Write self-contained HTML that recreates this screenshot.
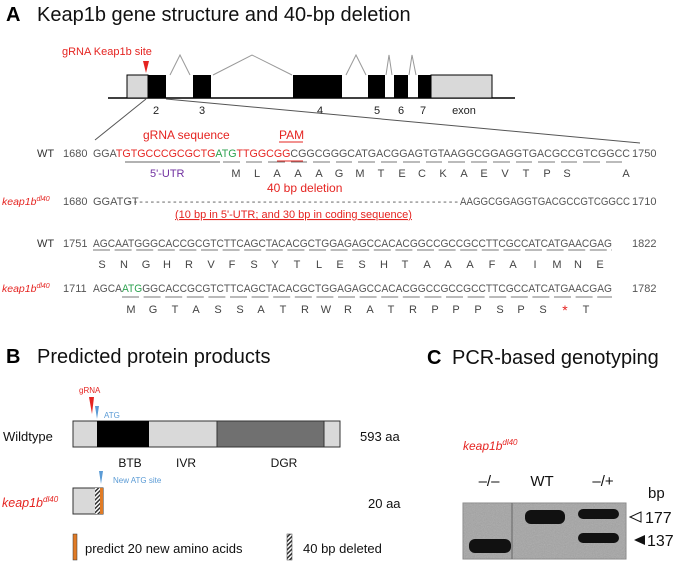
<!DOCTYPE html>
<html><head><meta charset="utf-8"><style>
html,body{margin:0;padding:0;background:#fff}
svg{display:block;font-family:"Liberation Sans",sans-serif}
.seq{font-family:"Liberation Sans Narrow","Liberation Sans",sans-serif;font-size:11px;fill:#555}
.aa{font-size:11px;fill:#444}
</style></head><body>
<svg width="685" height="562" viewBox="0 0 685 562" xmlns="http://www.w3.org/2000/svg">
<defs>
<pattern id="hatch" width="3" height="3" patternUnits="userSpaceOnUse" patternTransform="rotate(45)">
<rect width="3" height="3" fill="#fff"/><rect width="1.5" height="3" fill="#333"/></pattern>
<filter id="noise" x="0" y="0" width="1" height="1"><feTurbulence type="fractalNoise" baseFrequency="0.9" numOctaves="2"/><feColorMatrix type="saturate" values="0"/></filter>
<clipPath id="gelclip"><rect x="463" y="503" width="163" height="56"/></clipPath>
</defs>
<!-- Panel A -->
<text x="6" y="21" font-size="20" font-weight="bold">A</text>
<text x="37" y="21" font-size="20" fill="#111">Keap1b gene structure and 40-bp deletion</text>
<text x="62" y="55" font-size="11" fill="#e52421">gRNA  Keap1b site</text>
<polygon points="143,61 149,61 146,73" fill="#e52421"/>
<g stroke="#999" fill="none" stroke-width="1">
<polyline points="170,75 180,55 190,75"/>
<polyline points="213,75 252,55 292,75"/>
<polyline points="346,75 356,55 366,75"/>
<polyline points="386,75 389,55 392,75"/>
<polyline points="409,75 412,55 416,75"/>
</g>
<line x1="108" y1="98" x2="515" y2="98" stroke="#000" stroke-width="1.5"/>
<rect x="127" y="75" width="21" height="23" fill="#d9d9d9" stroke="#000"/>
<rect x="148" y="75" width="18" height="23" fill="#000"/>
<rect x="193" y="75" width="18" height="23" fill="#000"/>
<rect x="293" y="75" width="49" height="23" fill="#000"/>
<rect x="368" y="75" width="17" height="23" fill="#000"/>
<rect x="394" y="75" width="14" height="23" fill="#000"/>
<rect x="418" y="75" width="13" height="23" fill="#000"/>
<rect x="431" y="75" width="61" height="23" fill="#d9d9d9" stroke="#000"/>
<g font-size="11" fill="#222" text-anchor="middle">
<text x="156" y="114">2</text><text x="202" y="114">3</text><text x="320" y="114">4</text>
<text x="377" y="114">5</text><text x="401" y="114">6</text><text x="423" y="114">7</text><text x="464" y="114">exon</text>
</g>
<line x1="146" y1="99" x2="95" y2="140" stroke="#555"/>
<line x1="166" y1="99" x2="640" y2="143" stroke="#555"/>
<text x="143" y="139" font-size="12" fill="#e52421">gRNA  sequence</text>
<text x="279" y="139" font-size="12" fill="#e52421">PAM</text>
<line x1="279" y1="142" x2="303" y2="142" stroke="#e52421"/>
<!-- row 1 -->
<text x="37" y="157" font-size="11" fill="#333">WT</text>
<text x="63" y="157" class="seq">1680</text>
<text x="93" y="157" class="seq" textLength="537" lengthAdjust="spacingAndGlyphs">GGA<tspan fill="#e52421">TGTGCCCGCGCTG</tspan><tspan fill="#2ca24f">ATG</tspan><tspan fill="#e52421">TTGGCGG</tspan>CGGCGGGCATGACGGAGTGTAAGGCGGAGGTGACGCCGTCGGCC</text>
<text x="632" y="157" class="seq">1750</text>
<line x1="277" y1="161" x2="303" y2="161" stroke="#e52421"/>
<line x1="125" y1="162" x2="220" y2="162" stroke="#666"/>
<g stroke="#777">
<line x1="223" y1="162" x2="240" y2="162"/><line x1="246" y1="162" x2="262" y2="162"/><line x1="268" y1="162" x2="285" y2="162"/><line x1="291" y1="162" x2="307" y2="162"/><line x1="313" y1="162" x2="330" y2="162"/><line x1="336" y1="162" x2="352" y2="162"/><line x1="358" y1="162" x2="375" y2="162"/><line x1="381" y1="162" x2="397" y2="162"/><line x1="403" y1="162" x2="420" y2="162"/><line x1="426" y1="162" x2="442" y2="162"/><line x1="448" y1="162" x2="465" y2="162"/><line x1="471" y1="162" x2="487" y2="162"/><line x1="493" y1="162" x2="510" y2="162"/><line x1="516" y1="162" x2="532" y2="162"/><line x1="538" y1="162" x2="555" y2="162"/><line x1="561" y1="162" x2="577" y2="162"/><line x1="583" y1="162" x2="600" y2="162"/><line x1="606" y1="162" x2="622" y2="162"/>
</g>
<text x="150" y="177" font-size="11" fill="#7030a0">5'-UTR</text>
<g class="aa" text-anchor="middle">
<text x="236" y="177">M</text><text x="257" y="177">L</text><text x="277" y="177">A</text><text x="298" y="177">A</text><text x="319" y="177">A</text><text x="339" y="177">G</text><text x="360" y="177">M</text><text x="381" y="177">T</text><text x="402" y="177">E</text><text x="422" y="177">C</text><text x="443" y="177">K</text><text x="464" y="177">A</text><text x="484" y="177">E</text><text x="505" y="177">V</text><text x="526" y="177">T</text><text x="547" y="177">P</text><text x="567" y="177">S</text><text x="626" y="177">A</text>
</g>
<text x="267" y="192" font-size="12" fill="#e52421">40 bp deletion</text>
<text x="2" y="205" font-size="10.5" font-style="italic" fill="#e52421">keap1b<tspan font-size="7" dy="-4">dl40</tspan></text>
<text x="63" y="205" class="seq">1680</text>
<text x="93" y="205" class="seq">GGATGT</text>
<text x="128" y="205" class="seq" textLength="330" lengthAdjust="spacing">-----------------------------------------------------------</text>
<text x="460" y="205" class="seq" textLength="170" lengthAdjust="spacingAndGlyphs">AAGGCGGAGGTGACGCCGTCGGCC</text>
<text x="632" y="205" class="seq">1710</text>
<text x="175" y="218" font-size="11" fill="#e52421" text-decoration="underline">(10 bp in 5'-UTR; and 30 bp in coding sequence)</text>
<!-- row 2 -->
<text x="37" y="247" font-size="11" fill="#333">WT</text>
<text x="63" y="247" class="seq">1751</text>
<text x="93" y="247" class="seq" textLength="519" lengthAdjust="spacingAndGlyphs">AGCAATGGGCACCGCGTCTTCAGCTACACGCTGGAGAGCCACACGGCCGCCGCCTTCGCCATCATGAACGAG</text>
<text x="632" y="247" class="seq">1822</text>
<g stroke="#777" stroke-dasharray="17,4.6"><line x1="93" y1="250" x2="612" y2="250"/></g>
<g class="aa" text-anchor="middle">
<text x="102" y="268">S</text><text x="124" y="268">N</text><text x="146" y="268">G</text><text x="167" y="268">H</text><text x="189" y="268">R</text><text x="211" y="268">V</text><text x="232" y="268">F</text><text x="254" y="268">S</text><text x="275" y="268">Y</text><text x="297" y="268">T</text><text x="319" y="268">L</text><text x="340" y="268">E</text><text x="362" y="268">S</text><text x="384" y="268">H</text><text x="405" y="268">T</text><text x="427" y="268">A</text><text x="448" y="268">A</text><text x="470" y="268">A</text><text x="492" y="268">F</text><text x="513" y="268">A</text><text x="535" y="268">I</text><text x="557" y="268">M</text><text x="578" y="268">N</text><text x="600" y="268">E</text>
</g>
<text x="2" y="292" font-size="10.5" font-style="italic" fill="#e52421">keap1b<tspan font-size="7" dy="-4">dl40</tspan></text>
<text x="63" y="292" class="seq">1711</text>
<text x="93" y="292" class="seq" textLength="519" lengthAdjust="spacingAndGlyphs">AGCA<tspan fill="#2ca24f">ATG</tspan>GGCACCGCGTCTTCAGCTACACGCTGGAGAGCCACACGGCCGCCGCCTTCGCCATCATGAACGAG</text>
<text x="632" y="292" class="seq">1782</text>
<g stroke="#777" stroke-dasharray="17,4.6"><line x1="122" y1="297" x2="612" y2="297"/></g>
<g class="aa" text-anchor="middle">
<text x="131" y="313">M</text><text x="153" y="313">G</text><text x="175" y="313">T</text><text x="196" y="313">A</text><text x="218" y="313">S</text><text x="240" y="313">S</text><text x="261" y="313">A</text><text x="283" y="313">T</text><text x="305" y="313">R</text><text x="326" y="313">W</text><text x="348" y="313">R</text><text x="370" y="313">A</text><text x="391" y="313">T</text><text x="413" y="313">R</text><text x="435" y="313">P</text><text x="456" y="313">P</text><text x="478" y="313">P</text><text x="500" y="313">S</text><text x="521" y="313">P</text><text x="543" y="313">S</text><text x="565" y="315" fill="#e52421" font-size="14">*</text><text x="586" y="313">T</text>
</g>
<!-- Panel B -->
<text x="6" y="363" font-size="20" font-weight="bold">B</text>
<text x="37" y="363" font-size="20" fill="#111">Predicted protein products</text>
<text x="79" y="393" font-size="8" fill="#e52421">gRNA</text>
<polygon points="89,397 94,397 92,414" fill="#e52421"/>
<polygon points="95,406 99,406 97,419" fill="#5b9bd5"/>
<text x="104" y="418" font-size="8" fill="#5b9bd5">ATG</text>
<rect x="73" y="421" width="267" height="26" fill="#d9d9d9" stroke="#333"/>
<rect x="97" y="421" width="52" height="26" fill="#000"/>
<rect x="217" y="421" width="107" height="26" fill="#707070" stroke="#333"/>
<text x="3" y="441" font-size="13" fill="#111">Wildtype</text>
<text x="360" y="441" font-size="13" fill="#111">593 aa</text>
<g font-size="12" fill="#111" text-anchor="middle"><text x="130" y="467">BTB</text><text x="186" y="467">IVR</text><text x="284" y="467">DGR</text></g>
<polygon points="99,471 103,471 101,484" fill="#5b9bd5"/>
<text x="113" y="483" font-size="8" fill="#5b9bd5">New ATG site</text>
<rect x="73" y="488" width="30" height="26" fill="#d9d9d9" stroke="#333"/>
<rect x="95" y="488" width="5" height="26" fill="url(#hatch)"/>
<rect x="100" y="488" width="3" height="26" fill="#e07b26"/>
<text x="2" y="507" font-size="12.5" font-style="italic" fill="#e52421">keap1b<tspan font-size="8" dy="-5">dl40</tspan></text>
<text x="368" y="508" font-size="13" fill="#111">20 aa</text>
<rect x="73" y="534" width="4" height="26" fill="#e07b26" stroke="#333" stroke-width="0.5"/>
<text x="85" y="553" font-size="13" fill="#111">predict 20 new amino acids</text>
<rect x="287" y="534" width="5" height="26" fill="url(#hatch)" stroke="#333" stroke-width="0.5"/>
<text x="303" y="553" font-size="13" fill="#111">40 bp deleted</text>
<!-- Panel C -->
<text x="427" y="364" font-size="20" font-weight="bold">C</text>
<text x="452" y="364" font-size="20" fill="#111">PCR-based genotyping</text>
<text x="463" y="450" font-size="12" font-style="italic" fill="#e52421">keap1b<tspan font-size="8" dy="-5">dl40</tspan></text>
<g font-size="15" fill="#111" text-anchor="middle"><text x="489" y="486">–/–</text><text x="542" y="486">WT</text><text x="603" y="486">–/+</text></g>
<text x="648" y="498" font-size="15" fill="#111">bp</text>
<rect x="463" y="503" width="163" height="56" fill="#a4a4a4" stroke="#888"/>
<g clip-path="url(#gelclip)"><rect x="463" y="503" width="163" height="56" filter="url(#noise)" opacity="0.3"/></g>
<line x1="512" y1="503" x2="512" y2="559" stroke="#666"/>
<rect x="469" y="539" width="42" height="14" rx="6" fill="#111"/>
<rect x="525" y="510" width="40" height="14" rx="6" fill="#111"/>
<rect x="578" y="509" width="41" height="10" rx="5" fill="#111"/>
<rect x="578" y="533" width="41" height="10" rx="5" fill="#111"/>
<polygon points="641,512 641,522 630,517" fill="#fff" stroke="#111"/>
<text x="645" y="523" font-size="16" fill="#111">177</text>
<polygon points="645,535 645,545 634,540" fill="#111"/>
<text x="647" y="546" font-size="16" fill="#111">137</text>
</svg>
</body></html>
